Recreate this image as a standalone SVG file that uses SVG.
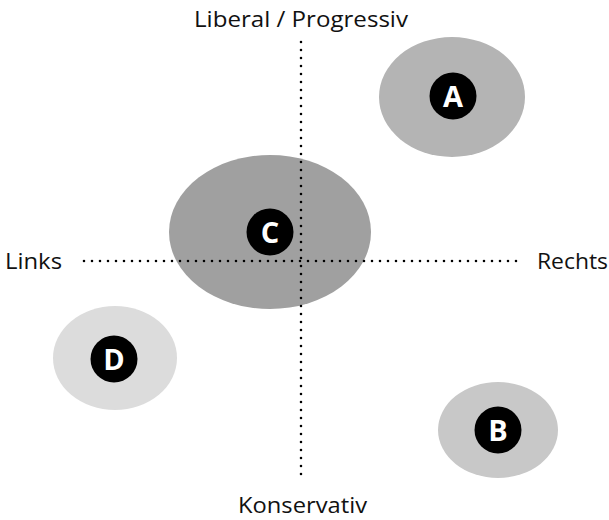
<svg xmlns="http://www.w3.org/2000/svg" width="609" height="520" viewBox="0 0 609 520">
<style>
.lbl{font-family:"Open Sans","Noto Sans","Liberation Sans",sans-serif;font-size:22px;fill:#111}
.badge{fill:#000}
.bt{font-family:"Open Sans","Noto Sans","Liberation Sans",sans-serif;font-size:29px;font-weight:bold;fill:#fff;text-anchor:middle}
.axis{stroke:#000;stroke-width:2.6;stroke-linecap:round;stroke-dasharray:0 8;fill:none}
</style>
<rect width="609" height="520" fill="#fff"/>
<g id="node-A"><ellipse cx="452" cy="97" rx="73" ry="60" fill="#b4b4b4"/><circle class="badge" cx="453" cy="96" r="23.5"/><text class="bt" x="453" y="106.5">A</text></g>
<g id="node-B"><ellipse cx="498" cy="430" rx="60" ry="48" fill="#c8c8c8"/><circle class="badge" cx="498" cy="430" r="23.5"/><text class="bt" x="498" y="440.5">B</text></g>
<g id="node-D"><ellipse cx="115" cy="358" rx="62" ry="52" fill="#dcdcdc"/><circle class="badge" cx="114" cy="359" r="23.5"/><text class="bt" x="114" y="369.5">D</text></g>
<g id="node-C"><ellipse cx="270" cy="232" rx="101" ry="77" fill="#a0a0a0"/><circle class="badge" cx="270" cy="232" r="23.5"/><text class="bt" x="270" y="242.5">C</text></g>
<g id="connectors">
<line class="axis" x1="84" y1="261" x2="520" y2="261"/>
<line class="axis" x1="301" y1="42" x2="301" y2="478"/>
</g>
<g id="labels">
<text class="lbl" x="194" y="27" textLength="214" lengthAdjust="spacingAndGlyphs">Liberal / Progressiv</text>
<text class="lbl" x="5" y="269" textLength="57" lengthAdjust="spacingAndGlyphs">Links</text>
<text class="lbl" x="537" y="269" textLength="71" lengthAdjust="spacingAndGlyphs">Rechts</text>
<text class="lbl" x="238" y="513" textLength="129" lengthAdjust="spacingAndGlyphs">Konservativ</text>
</g>
</svg>
